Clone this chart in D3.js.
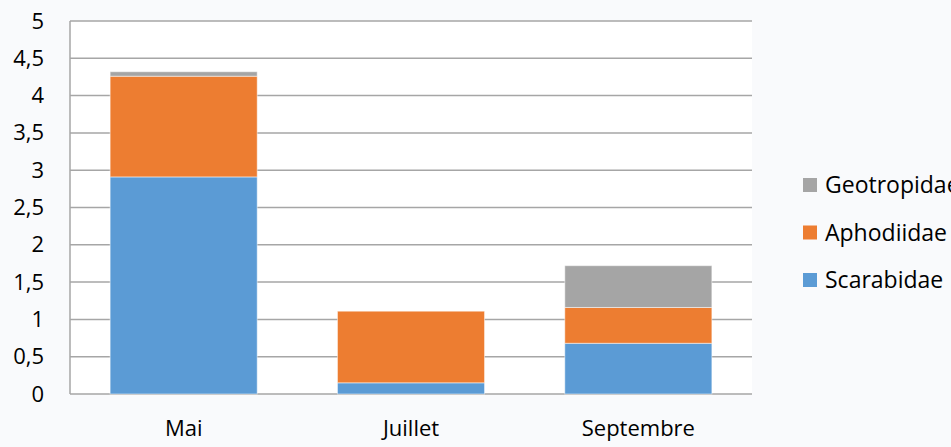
<!DOCTYPE html>
<html>
<head>
<meta charset="utf-8">
<script src="https://cdn.jsdelivr.net/npm/d3@7"></script>
<style>
  body { margin: 0; background: #f9fafc; }
  svg { display: block; font-family: "Open Sans", "Noto Sans", sans-serif; }
</style>
</head>
<body>
<div id="wrapper"></div>
<script>
// values
const months = ["Mai", "Juillet", "Septembre"];
const scarabidae = [2.91, 0.15, 0.68];
const aphodiidae = [1.35, 0.96, 0.48];
const geotropidae = [0.06, 0, 0.56];
const yTicks = [0, 0.5, 1, 1.5, 2, 2.5, 3, 3.5, 4, 4.5, 5];

const seriesNames = ["Scarabidae", "Aphodiidae", "Geotropidae"];
const colors = { Scarabidae: "#5b9bd5", Aphodiidae: "#ed7d31", Geotropidae: "#a5a5a5" };

function drawChart() {
    const dimensions = {
        width: 951,
        height: 447,
        margin: { top: 21, right: 199, bottom: 53, left: 70 }
    };
    dimensions.boundedWidth = dimensions.width - dimensions.margin.left - dimensions.margin.right;
    dimensions.boundedHeight = dimensions.height - dimensions.margin.top - dimensions.margin.bottom;

    const table = months.map((m, i) => ({
        month: m,
        Scarabidae: scarabidae[i],
        Aphodiidae: aphodiidae[i],
        Geotropidae: geotropidae[i]
    }));
    const stacked = d3.stack().keys(seriesNames)(table);

    const wrapper = d3.select("#wrapper")
        .append("svg")
            .attr("width", dimensions.width)
            .attr("height", dimensions.height);

    const bounds = wrapper.append("g")
        .attr("transform", `translate(${dimensions.margin.left},${dimensions.margin.top})`);

    bounds.append("rect")
        .attr("width", dimensions.boundedWidth)
        .attr("height", dimensions.boundedHeight)
        .attr("fill", "#ffffff");

    const xScale = d3.scaleBand()
        .domain(months)
        .range([0, dimensions.boundedWidth])
        .paddingInner(0.353)
        .paddingOuter(0.1765);

    const yScale = d3.scaleLinear()
        .domain([0, 5])
        .range([dimensions.boundedHeight, 0]);

    // gridlines
    bounds.append("g")
        .selectAll("line")
        .data(yTicks)
        .join("line")
            .attr("x1", 0)
            .attr("x2", dimensions.boundedWidth)
            .attr("y1", d => yScale(d))
            .attr("y2", d => yScale(d))
            .attr("stroke", "#a6a6a6")
            .attr("stroke-width", 1.5);

    // left axis line
    bounds.append("line")
        .attr("x1", 0).attr("x2", 0)
        .attr("y1", 0).attr("y2", dimensions.boundedHeight)
        .attr("stroke", "#a6a6a6")
        .attr("stroke-width", 1.5);

    // bars
    bounds.append("g")
        .selectAll("g")
        .data(stacked)
        .join("g")
            .attr("fill", d => colors[d.key])
        .selectAll("rect")
        .data(d => d.filter(s => s[1] - s[0] > 0))
        .join("rect")
            .attr("x", d => xScale(d.data.month))
            .attr("width", xScale.bandwidth())
            .attr("y", d => yScale(d[1]))
            .attr("height", d => yScale(d[0]) - yScale(d[1]))
            .attr("stroke", "#ffffff")
            .attr("stroke-opacity", 0.5)
            .attr("stroke-width", 1);

    // y axis
    const fmt = d => String(d).replace(".", ",");
    const yAxis = d3.axisLeft(yScale)
        .tickValues(yTicks)
        .tickFormat(fmt)
        .tickSize(0)
        .tickPadding(26);
    const yAxisG = bounds.append("g").call(yAxis);
    yAxisG.select(".domain").remove();
    yAxisG.selectAll("text")
        .attr("font-size", 22)
        .attr("font-family", "Open Sans, sans-serif")
        .attr("fill", "#000");

    // x axis
    const xAxis = d3.axisBottom(xScale).tickSize(0).tickPadding(26);
    const xAxisG = bounds.append("g")
        .attr("transform", `translate(0,${dimensions.boundedHeight})`)
        .call(xAxis);
    xAxisG.select(".domain").remove();
    xAxisG.selectAll("text")
        .attr("font-size", 22)
        .attr("font-family", "Open Sans, sans-serif")
        .attr("fill", "#000");

    // legend
    const legendItems = ["Geotropidae", "Aphodiidae", "Scarabidae"];
    const legend = wrapper.append("g")
        .attr("transform", "translate(803,185)");
    const item = legend.selectAll("g")
        .data(legendItems)
        .join("g")
            .attr("transform", (d, i) => `translate(0,${i * 47.5})`);
    item.append("rect")
        .attr("x", 0)
        .attr("y", -7)
        .attr("width", 14)
        .attr("height", 14)
        .attr("fill", d => colors[d]);
    item.append("text")
        .attr("x", 22)
        .attr("y", 0)
        .attr("dy", "0.35em")
        .attr("font-size", 23)
        .attr("fill", "#000")
        .text(d => d);
}

drawChart();
</script>
</body>
</html>
